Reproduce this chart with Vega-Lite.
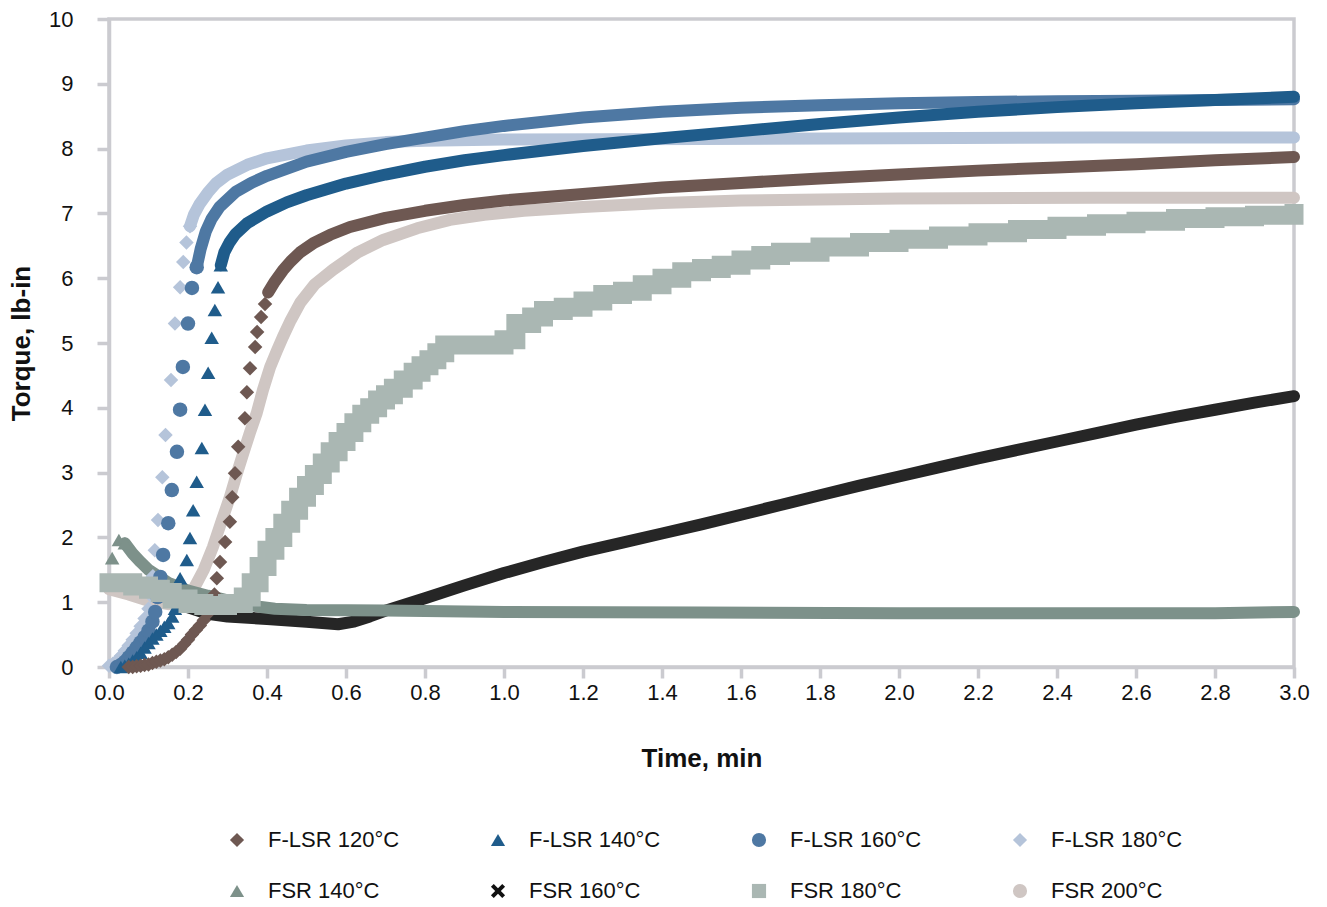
{
  "$schema": "https://vega.github.io/schema/vega-lite/v6.json",
  "width": 1185,
  "height": 648,
  "autosize": {"type": "none"},
  "padding": {"left": 109, "top": 19, "right": 33, "bottom": 240},
  "background": "white",
  "config": {
    "view": {"stroke": "#cbcbd0", "strokeWidth": 3.5},
    "axis": {"grid": false, "domainColor": "#cbcbd0", "domainWidth": 3.5, "tickColor": "#cbcbd0", "tickWidth": 3.5, "labelFont": "Liberation Sans", "labelFontSize": 22, "labelColor": "#111", "titleFont": "Liberation Sans", "titleFontSize": 26, "titleFontWeight": "bold", "titleColor": "#111"}
  },
  "datasets": {
    "bands": [
      {"series": "FSR 160°C", "time": 0, "torque": 1.28},
      {"series": "FSR 160°C", "time": 0.1, "torque": 1.12},
      {"series": "FSR 160°C", "time": 0.2, "torque": 0.92},
      {"series": "FSR 160°C", "time": 0.25, "torque": 0.82},
      {"series": "FSR 160°C", "time": 0.3, "torque": 0.78},
      {"series": "FSR 160°C", "time": 0.4, "torque": 0.74},
      {"series": "FSR 160°C", "time": 0.5, "torque": 0.7},
      {"series": "FSR 160°C", "time": 0.58, "torque": 0.66},
      {"series": "FSR 160°C", "time": 0.62, "torque": 0.7},
      {"series": "FSR 160°C", "time": 0.66, "torque": 0.78},
      {"series": "FSR 160°C", "time": 0.7, "torque": 0.87},
      {"series": "FSR 160°C", "time": 0.8, "torque": 1.06},
      {"series": "FSR 160°C", "time": 0.9, "torque": 1.26},
      {"series": "FSR 160°C", "time": 1.0, "torque": 1.45},
      {"series": "FSR 160°C", "time": 1.1, "torque": 1.62},
      {"series": "FSR 160°C", "time": 1.2, "torque": 1.78},
      {"series": "FSR 160°C", "time": 1.3, "torque": 1.92},
      {"series": "FSR 160°C", "time": 1.4, "torque": 2.06},
      {"series": "FSR 160°C", "time": 1.5, "torque": 2.2},
      {"series": "FSR 160°C", "time": 1.6, "torque": 2.35},
      {"series": "FSR 160°C", "time": 1.7, "torque": 2.5},
      {"series": "FSR 160°C", "time": 1.8, "torque": 2.65},
      {"series": "FSR 160°C", "time": 1.9, "torque": 2.8},
      {"series": "FSR 160°C", "time": 2.0, "torque": 2.94},
      {"series": "FSR 160°C", "time": 2.1, "torque": 3.08},
      {"series": "FSR 160°C", "time": 2.2, "torque": 3.22},
      {"series": "FSR 160°C", "time": 2.3, "torque": 3.35},
      {"series": "FSR 160°C", "time": 2.4, "torque": 3.48},
      {"series": "FSR 160°C", "time": 2.5, "torque": 3.61},
      {"series": "FSR 160°C", "time": 2.6, "torque": 3.74},
      {"series": "FSR 160°C", "time": 2.7, "torque": 3.86},
      {"series": "FSR 160°C", "time": 2.8, "torque": 3.97},
      {"series": "FSR 160°C", "time": 2.9, "torque": 4.08},
      {"series": "FSR 160°C", "time": 3.0, "torque": 4.18},

      {"series": "FSR 200°C", "time": 0, "torque": 1.2},
      {"series": "FSR 200°C", "time": 0.05, "torque": 1.12},
      {"series": "FSR 200°C", "time": 0.1, "torque": 1.02},
      {"series": "FSR 200°C", "time": 0.15, "torque": 0.97},
      {"series": "FSR 200°C", "time": 0.2, "torque": 1.05},
      {"series": "FSR 200°C", "time": 0.213, "torque": 1.19},
      {"series": "FSR 200°C", "time": 0.24, "torque": 1.5},
      {"series": "FSR 200°C", "time": 0.263, "torque": 1.85},
      {"series": "FSR 200°C", "time": 0.285, "torque": 2.25},
      {"series": "FSR 200°C", "time": 0.306, "torque": 2.62},
      {"series": "FSR 200°C", "time": 0.323, "torque": 2.97},
      {"series": "FSR 200°C", "time": 0.34, "torque": 3.3},
      {"series": "FSR 200°C", "time": 0.357, "torque": 3.62},
      {"series": "FSR 200°C", "time": 0.374, "torque": 3.92},
      {"series": "FSR 200°C", "time": 0.39, "torque": 4.28},
      {"series": "FSR 200°C", "time": 0.408, "torque": 4.63},
      {"series": "FSR 200°C", "time": 0.425, "torque": 4.88},
      {"series": "FSR 200°C", "time": 0.44, "torque": 5.09},
      {"series": "FSR 200°C", "time": 0.46, "torque": 5.35},
      {"series": "FSR 200°C", "time": 0.484, "torque": 5.62},
      {"series": "FSR 200°C", "time": 0.52, "torque": 5.9},
      {"series": "FSR 200°C", "time": 0.567, "torque": 6.13},
      {"series": "FSR 200°C", "time": 0.63, "torque": 6.4},
      {"series": "FSR 200°C", "time": 0.694, "torque": 6.59},
      {"series": "FSR 200°C", "time": 0.78, "torque": 6.77},
      {"series": "FSR 200°C", "time": 0.863, "torque": 6.9},
      {"series": "FSR 200°C", "time": 0.95, "torque": 6.98},
      {"series": "FSR 200°C", "time": 1.05, "torque": 7.04},
      {"series": "FSR 200°C", "time": 1.2, "torque": 7.1},
      {"series": "FSR 200°C", "time": 1.4, "torque": 7.16},
      {"series": "FSR 200°C", "time": 1.6, "torque": 7.2},
      {"series": "FSR 200°C", "time": 2.0, "torque": 7.23},
      {"series": "FSR 200°C", "time": 2.5, "torque": 7.24},
      {"series": "FSR 200°C", "time": 3.0, "torque": 7.24},

      {"series": "F-LSR 120°C", "time": 0.403, "torque": 5.78},
      {"series": "F-LSR 120°C", "time": 0.42, "torque": 5.95},
      {"series": "F-LSR 120°C", "time": 0.44, "torque": 6.12},
      {"series": "F-LSR 120°C", "time": 0.46, "torque": 6.26},
      {"series": "F-LSR 120°C", "time": 0.484, "torque": 6.4},
      {"series": "F-LSR 120°C", "time": 0.52, "torque": 6.55},
      {"series": "F-LSR 120°C", "time": 0.56, "torque": 6.67},
      {"series": "F-LSR 120°C", "time": 0.61, "torque": 6.79},
      {"series": "F-LSR 120°C", "time": 0.7, "torque": 6.93},
      {"series": "F-LSR 120°C", "time": 0.8, "torque": 7.04},
      {"series": "F-LSR 120°C", "time": 0.9, "torque": 7.13},
      {"series": "F-LSR 120°C", "time": 1.0, "torque": 7.2},
      {"series": "F-LSR 120°C", "time": 1.2, "torque": 7.3},
      {"series": "F-LSR 120°C", "time": 1.4, "torque": 7.4},
      {"series": "F-LSR 120°C", "time": 1.6, "torque": 7.47},
      {"series": "F-LSR 120°C", "time": 1.8, "torque": 7.54},
      {"series": "F-LSR 120°C", "time": 2.0, "torque": 7.6},
      {"series": "F-LSR 120°C", "time": 2.2, "torque": 7.66},
      {"series": "F-LSR 120°C", "time": 2.4, "torque": 7.71},
      {"series": "F-LSR 120°C", "time": 2.6, "torque": 7.76},
      {"series": "F-LSR 120°C", "time": 2.8, "torque": 7.82},
      {"series": "F-LSR 120°C", "time": 3.0, "torque": 7.87},

      {"series": "F-LSR 180°C", "time": 0.205, "torque": 6.8},
      {"series": "F-LSR 180°C", "time": 0.215, "torque": 6.98},
      {"series": "F-LSR 180°C", "time": 0.23, "torque": 7.15},
      {"series": "F-LSR 180°C", "time": 0.25, "torque": 7.32},
      {"series": "F-LSR 180°C", "time": 0.27, "torque": 7.46},
      {"series": "F-LSR 180°C", "time": 0.3, "torque": 7.6},
      {"series": "F-LSR 180°C", "time": 0.35, "torque": 7.75},
      {"series": "F-LSR 180°C", "time": 0.4, "torque": 7.85},
      {"series": "F-LSR 180°C", "time": 0.5, "torque": 7.97},
      {"series": "F-LSR 180°C", "time": 0.6, "torque": 8.05},
      {"series": "F-LSR 180°C", "time": 0.7, "torque": 8.1},
      {"series": "F-LSR 180°C", "time": 0.8, "torque": 8.12},
      {"series": "F-LSR 180°C", "time": 1.0, "torque": 8.14},
      {"series": "F-LSR 180°C", "time": 1.5, "torque": 8.15},
      {"series": "F-LSR 180°C", "time": 2.0, "torque": 8.16},
      {"series": "F-LSR 180°C", "time": 2.5, "torque": 8.17},
      {"series": "F-LSR 180°C", "time": 3.0, "torque": 8.17},

      {"series": "F-LSR 160°C", "time": 0.222, "torque": 6.17},
      {"series": "F-LSR 160°C", "time": 0.232, "torque": 6.45},
      {"series": "F-LSR 160°C", "time": 0.245, "torque": 6.72},
      {"series": "F-LSR 160°C", "time": 0.26, "torque": 6.92},
      {"series": "F-LSR 160°C", "time": 0.28, "torque": 7.1},
      {"series": "F-LSR 160°C", "time": 0.32, "torque": 7.33},
      {"series": "F-LSR 160°C", "time": 0.36, "torque": 7.47},
      {"series": "F-LSR 160°C", "time": 0.4, "torque": 7.58},
      {"series": "F-LSR 160°C", "time": 0.5, "torque": 7.8},
      {"series": "F-LSR 160°C", "time": 0.6, "torque": 7.95},
      {"series": "F-LSR 160°C", "time": 0.7, "torque": 8.07},
      {"series": "F-LSR 160°C", "time": 0.8, "torque": 8.17},
      {"series": "F-LSR 160°C", "time": 0.9, "torque": 8.27},
      {"series": "F-LSR 160°C", "time": 1.0, "torque": 8.35},
      {"series": "F-LSR 160°C", "time": 1.2, "torque": 8.48},
      {"series": "F-LSR 160°C", "time": 1.4, "torque": 8.57},
      {"series": "F-LSR 160°C", "time": 1.6, "torque": 8.63},
      {"series": "F-LSR 160°C", "time": 1.8, "torque": 8.67},
      {"series": "F-LSR 160°C", "time": 2.0, "torque": 8.7},
      {"series": "F-LSR 160°C", "time": 2.2, "torque": 8.72},
      {"series": "F-LSR 160°C", "time": 2.4, "torque": 8.73},
      {"series": "F-LSR 160°C", "time": 2.6, "torque": 8.74},
      {"series": "F-LSR 160°C", "time": 2.8, "torque": 8.75},
      {"series": "F-LSR 160°C", "time": 3.0, "torque": 8.76},

      {"series": "F-LSR 140°C", "time": 0.283, "torque": 6.2},
      {"series": "F-LSR 140°C", "time": 0.292, "torque": 6.4},
      {"series": "F-LSR 140°C", "time": 0.305, "torque": 6.55},
      {"series": "F-LSR 140°C", "time": 0.32, "torque": 6.68},
      {"series": "F-LSR 140°C", "time": 0.35, "torque": 6.85},
      {"series": "F-LSR 140°C", "time": 0.4, "torque": 7.03},
      {"series": "F-LSR 140°C", "time": 0.45, "torque": 7.17},
      {"series": "F-LSR 140°C", "time": 0.5, "torque": 7.28},
      {"series": "F-LSR 140°C", "time": 0.6, "torque": 7.46},
      {"series": "F-LSR 140°C", "time": 0.7, "torque": 7.6},
      {"series": "F-LSR 140°C", "time": 0.8, "torque": 7.72},
      {"series": "F-LSR 140°C", "time": 0.9, "torque": 7.82},
      {"series": "F-LSR 140°C", "time": 1.0, "torque": 7.9},
      {"series": "F-LSR 140°C", "time": 1.2, "torque": 8.04},
      {"series": "F-LSR 140°C", "time": 1.4, "torque": 8.16},
      {"series": "F-LSR 140°C", "time": 1.6, "torque": 8.27},
      {"series": "F-LSR 140°C", "time": 1.8, "torque": 8.38},
      {"series": "F-LSR 140°C", "time": 2.0, "torque": 8.48},
      {"series": "F-LSR 140°C", "time": 2.2, "torque": 8.57},
      {"series": "F-LSR 140°C", "time": 2.4, "torque": 8.64},
      {"series": "F-LSR 140°C", "time": 2.6, "torque": 8.7},
      {"series": "F-LSR 140°C", "time": 2.8, "torque": 8.75},
      {"series": "F-LSR 140°C", "time": 3.0, "torque": 8.8},

      {"series": "FSR 140°C", "time": 0.04, "torque": 1.91},
      {"series": "FSR 140°C", "time": 0.06, "torque": 1.75},
      {"series": "FSR 140°C", "time": 0.08, "torque": 1.62},
      {"series": "FSR 140°C", "time": 0.1, "torque": 1.5},
      {"series": "FSR 140°C", "time": 0.125, "torque": 1.4},
      {"series": "FSR 140°C", "time": 0.15, "torque": 1.3},
      {"series": "FSR 140°C", "time": 0.175, "torque": 1.24},
      {"series": "FSR 140°C", "time": 0.2, "torque": 1.18},
      {"series": "FSR 140°C", "time": 0.25, "torque": 1.1},
      {"series": "FSR 140°C", "time": 0.3, "torque": 1.03},
      {"series": "FSR 140°C", "time": 0.35, "torque": 0.97},
      {"series": "FSR 140°C", "time": 0.38, "torque": 0.93},
      {"series": "FSR 140°C", "time": 0.42, "torque": 0.9},
      {"series": "FSR 140°C", "time": 0.5, "torque": 0.88},
      {"series": "FSR 140°C", "time": 0.7, "torque": 0.87},
      {"series": "FSR 140°C", "time": 1.0, "torque": 0.85},
      {"series": "FSR 140°C", "time": 1.5, "torque": 0.84},
      {"series": "FSR 140°C", "time": 2.0, "torque": 0.83},
      {"series": "FSR 140°C", "time": 2.5, "torque": 0.83},
      {"series": "FSR 140°C", "time": 2.8, "torque": 0.83},
      {"series": "FSR 140°C", "time": 3.0, "torque": 0.85},

      {"series": "FSR 180°C", "time": 0, "torque": 1.3},
      {"series": "FSR 180°C", "time": 0.03, "torque": 1.3},
      {"series": "FSR 180°C", "time": 0.06, "torque": 1.25},
      {"series": "FSR 180°C", "time": 0.1, "torque": 1.2},
      {"series": "FSR 180°C", "time": 0.13, "torque": 1.15},
      {"series": "FSR 180°C", "time": 0.16, "torque": 1.05},
      {"series": "FSR 180°C", "time": 0.2, "torque": 0.98},
      {"series": "FSR 180°C", "time": 0.24, "torque": 0.95},
      {"series": "FSR 180°C", "time": 0.3, "torque": 0.98},
      {"series": "FSR 180°C", "time": 0.34, "torque": 1.08},
      {"series": "FSR 180°C", "time": 0.36, "torque": 1.3},
      {"series": "FSR 180°C", "time": 0.38, "torque": 1.55},
      {"series": "FSR 180°C", "time": 0.4, "torque": 1.8},
      {"series": "FSR 180°C", "time": 0.42, "torque": 2.0},
      {"series": "FSR 180°C", "time": 0.44, "torque": 2.22},
      {"series": "FSR 180°C", "time": 0.46, "torque": 2.42},
      {"series": "FSR 180°C", "time": 0.48, "torque": 2.62},
      {"series": "FSR 180°C", "time": 0.5, "torque": 2.8},
      {"series": "FSR 180°C", "time": 0.52, "torque": 2.97},
      {"series": "FSR 180°C", "time": 0.54, "torque": 3.15},
      {"series": "FSR 180°C", "time": 0.56, "torque": 3.32},
      {"series": "FSR 180°C", "time": 0.58, "torque": 3.48},
      {"series": "FSR 180°C", "time": 0.6, "torque": 3.62},
      {"series": "FSR 180°C", "time": 0.62, "torque": 3.77},
      {"series": "FSR 180°C", "time": 0.64, "torque": 3.9},
      {"series": "FSR 180°C", "time": 0.66, "torque": 4.0},
      {"series": "FSR 180°C", "time": 0.68, "torque": 4.12},
      {"series": "FSR 180°C", "time": 0.7, "torque": 4.2},
      {"series": "FSR 180°C", "time": 0.72, "torque": 4.3},
      {"series": "FSR 180°C", "time": 0.745, "torque": 4.43},
      {"series": "FSR 180°C", "time": 0.77, "torque": 4.55},
      {"series": "FSR 180°C", "time": 0.79, "torque": 4.65},
      {"series": "FSR 180°C", "time": 0.81, "torque": 4.74},
      {"series": "FSR 180°C", "time": 0.83, "torque": 4.85},
      {"series": "FSR 180°C", "time": 0.85, "torque": 4.97},
      {"series": "FSR 180°C", "time": 1.0, "torque": 5.05},
      {"series": "FSR 180°C", "time": 1.03, "torque": 5.3},
      {"series": "FSR 180°C", "time": 1.07, "torque": 5.4},
      {"series": "FSR 180°C", "time": 1.1, "torque": 5.5},
      {"series": "FSR 180°C", "time": 1.15, "torque": 5.55},
      {"series": "FSR 180°C", "time": 1.2, "torque": 5.65},
      {"series": "FSR 180°C", "time": 1.25, "torque": 5.75},
      {"series": "FSR 180°C", "time": 1.3, "torque": 5.8},
      {"series": "FSR 180°C", "time": 1.35, "torque": 5.9},
      {"series": "FSR 180°C", "time": 1.4, "torque": 6.0},
      {"series": "FSR 180°C", "time": 1.45, "torque": 6.1},
      {"series": "FSR 180°C", "time": 1.5, "torque": 6.15},
      {"series": "FSR 180°C", "time": 1.55, "torque": 6.2},
      {"series": "FSR 180°C", "time": 1.6, "torque": 6.28},
      {"series": "FSR 180°C", "time": 1.65, "torque": 6.35},
      {"series": "FSR 180°C", "time": 1.7, "torque": 6.4},
      {"series": "FSR 180°C", "time": 1.8, "torque": 6.48},
      {"series": "FSR 180°C", "time": 1.9, "torque": 6.55},
      {"series": "FSR 180°C", "time": 2.0, "torque": 6.6},
      {"series": "FSR 180°C", "time": 2.1, "torque": 6.65},
      {"series": "FSR 180°C", "time": 2.2, "torque": 6.7},
      {"series": "FSR 180°C", "time": 2.3, "torque": 6.75},
      {"series": "FSR 180°C", "time": 2.4, "torque": 6.8},
      {"series": "FSR 180°C", "time": 2.5, "torque": 6.84},
      {"series": "FSR 180°C", "time": 2.6, "torque": 6.88},
      {"series": "FSR 180°C", "time": 2.7, "torque": 6.92},
      {"series": "FSR 180°C", "time": 2.8, "torque": 6.95},
      {"series": "FSR 180°C", "time": 2.9, "torque": 6.97},
      {"series": "FSR 180°C", "time": 3.0, "torque": 7.0}
    ],
    "ramps": [
      {"series": "F-LSR 180°C", "time": 0.0, "torque": 0.02},
      {"series": "F-LSR 180°C", "time": 0.01, "torque": 0.05},
      {"series": "F-LSR 180°C", "time": 0.02, "torque": 0.1},
      {"series": "F-LSR 180°C", "time": 0.03, "torque": 0.17},
      {"series": "F-LSR 180°C", "time": 0.04, "torque": 0.25},
      {"series": "F-LSR 180°C", "time": 0.05, "torque": 0.33},
      {"series": "F-LSR 180°C", "time": 0.06, "torque": 0.42},
      {"series": "F-LSR 180°C", "time": 0.07, "torque": 0.52},
      {"series": "F-LSR 180°C", "time": 0.08, "torque": 0.63},
      {"series": "F-LSR 180°C", "time": 0.09, "torque": 0.75},
      {"series": "F-LSR 180°C", "time": 0.1, "torque": 0.9},
      {"series": "F-LSR 180°C", "time": 0.106, "torque": 1.1},
      {"series": "F-LSR 180°C", "time": 0.111, "torque": 1.4},
      {"series": "F-LSR 180°C", "time": 0.116, "torque": 1.8},
      {"series": "F-LSR 180°C", "time": 0.124, "torque": 2.27},
      {"series": "F-LSR 180°C", "time": 0.135, "torque": 2.93},
      {"series": "F-LSR 180°C", "time": 0.143, "torque": 3.58},
      {"series": "F-LSR 180°C", "time": 0.157, "torque": 4.43},
      {"series": "F-LSR 180°C", "time": 0.167, "torque": 5.3},
      {"series": "F-LSR 180°C", "time": 0.18, "torque": 5.86},
      {"series": "F-LSR 180°C", "time": 0.188, "torque": 6.25},
      {"series": "F-LSR 180°C", "time": 0.196, "torque": 6.55},
      {"series": "F-LSR 180°C", "time": 0.205, "torque": 6.8},

      {"series": "F-LSR 160°C", "time": 0.02, "torque": 0.0},
      {"series": "F-LSR 160°C", "time": 0.03, "torque": 0.03},
      {"series": "F-LSR 160°C", "time": 0.04, "torque": 0.08},
      {"series": "F-LSR 160°C", "time": 0.05, "torque": 0.15},
      {"series": "F-LSR 160°C", "time": 0.06, "torque": 0.22},
      {"series": "F-LSR 160°C", "time": 0.07, "torque": 0.3},
      {"series": "F-LSR 160°C", "time": 0.08, "torque": 0.38},
      {"series": "F-LSR 160°C", "time": 0.09, "torque": 0.46},
      {"series": "F-LSR 160°C", "time": 0.1, "torque": 0.56},
      {"series": "F-LSR 160°C", "time": 0.11, "torque": 0.7},
      {"series": "F-LSR 160°C", "time": 0.117, "torque": 0.85},
      {"series": "F-LSR 160°C", "time": 0.123, "torque": 1.08},
      {"series": "F-LSR 160°C", "time": 0.13, "torque": 1.39},
      {"series": "F-LSR 160°C", "time": 0.137, "torque": 1.73},
      {"series": "F-LSR 160°C", "time": 0.15, "torque": 2.22},
      {"series": "F-LSR 160°C", "time": 0.159, "torque": 2.73},
      {"series": "F-LSR 160°C", "time": 0.172, "torque": 3.32},
      {"series": "F-LSR 160°C", "time": 0.18, "torque": 3.97},
      {"series": "F-LSR 160°C", "time": 0.187, "torque": 4.63},
      {"series": "F-LSR 160°C", "time": 0.2, "torque": 5.3},
      {"series": "F-LSR 160°C", "time": 0.21, "torque": 5.85},
      {"series": "F-LSR 160°C", "time": 0.222, "torque": 6.17},

      {"series": "F-LSR 140°C", "time": 0.03, "torque": 0.0},
      {"series": "F-LSR 140°C", "time": 0.04, "torque": 0.02},
      {"series": "F-LSR 140°C", "time": 0.05, "torque": 0.05},
      {"series": "F-LSR 140°C", "time": 0.06, "torque": 0.1},
      {"series": "F-LSR 140°C", "time": 0.07, "torque": 0.15},
      {"series": "F-LSR 140°C", "time": 0.08, "torque": 0.22},
      {"series": "F-LSR 140°C", "time": 0.09, "torque": 0.3},
      {"series": "F-LSR 140°C", "time": 0.1, "torque": 0.37},
      {"series": "F-LSR 140°C", "time": 0.11, "torque": 0.44},
      {"series": "F-LSR 140°C", "time": 0.12, "torque": 0.5},
      {"series": "F-LSR 140°C", "time": 0.13, "torque": 0.56},
      {"series": "F-LSR 140°C", "time": 0.14, "torque": 0.62},
      {"series": "F-LSR 140°C", "time": 0.15, "torque": 0.68},
      {"series": "F-LSR 140°C", "time": 0.16, "torque": 0.78},
      {"series": "F-LSR 140°C", "time": 0.167, "torque": 0.9},
      {"series": "F-LSR 140°C", "time": 0.173, "torque": 1.08},
      {"series": "F-LSR 140°C", "time": 0.18, "torque": 1.37},
      {"series": "F-LSR 140°C", "time": 0.197, "torque": 1.65},
      {"series": "F-LSR 140°C", "time": 0.205, "torque": 1.99},
      {"series": "F-LSR 140°C", "time": 0.213, "torque": 2.42},
      {"series": "F-LSR 140°C", "time": 0.222, "torque": 2.86},
      {"series": "F-LSR 140°C", "time": 0.235, "torque": 3.38},
      {"series": "F-LSR 140°C", "time": 0.243, "torque": 3.97},
      {"series": "F-LSR 140°C", "time": 0.251, "torque": 4.54},
      {"series": "F-LSR 140°C", "time": 0.26, "torque": 5.08},
      {"series": "F-LSR 140°C", "time": 0.268, "torque": 5.51},
      {"series": "F-LSR 140°C", "time": 0.276, "torque": 5.86},
      {"series": "F-LSR 140°C", "time": 0.283, "torque": 6.2},

      {"series": "F-LSR 120°C", "time": 0.05, "torque": 0.0},
      {"series": "F-LSR 120°C", "time": 0.06, "torque": 0.0},
      {"series": "F-LSR 120°C", "time": 0.07, "torque": 0.01},
      {"series": "F-LSR 120°C", "time": 0.08, "torque": 0.02},
      {"series": "F-LSR 120°C", "time": 0.09, "torque": 0.03},
      {"series": "F-LSR 120°C", "time": 0.1, "torque": 0.04},
      {"series": "F-LSR 120°C", "time": 0.11, "torque": 0.06},
      {"series": "F-LSR 120°C", "time": 0.12, "torque": 0.08},
      {"series": "F-LSR 120°C", "time": 0.13, "torque": 0.1},
      {"series": "F-LSR 120°C", "time": 0.14, "torque": 0.12},
      {"series": "F-LSR 120°C", "time": 0.15, "torque": 0.15},
      {"series": "F-LSR 120°C", "time": 0.16, "torque": 0.19},
      {"series": "F-LSR 120°C", "time": 0.17, "torque": 0.23},
      {"series": "F-LSR 120°C", "time": 0.18, "torque": 0.28},
      {"series": "F-LSR 120°C", "time": 0.19, "torque": 0.35},
      {"series": "F-LSR 120°C", "time": 0.2, "torque": 0.42},
      {"series": "F-LSR 120°C", "time": 0.21, "torque": 0.5},
      {"series": "F-LSR 120°C", "time": 0.22, "torque": 0.57},
      {"series": "F-LSR 120°C", "time": 0.23, "torque": 0.64},
      {"series": "F-LSR 120°C", "time": 0.24, "torque": 0.72},
      {"series": "F-LSR 120°C", "time": 0.25, "torque": 0.82},
      {"series": "F-LSR 120°C", "time": 0.26, "torque": 0.95},
      {"series": "F-LSR 120°C", "time": 0.267, "torque": 1.12},
      {"series": "F-LSR 120°C", "time": 0.273, "torque": 1.37},
      {"series": "F-LSR 120°C", "time": 0.281, "torque": 1.62},
      {"series": "F-LSR 120°C", "time": 0.294, "torque": 1.93},
      {"series": "F-LSR 120°C", "time": 0.306, "torque": 2.24},
      {"series": "F-LSR 120°C", "time": 0.312, "torque": 2.62},
      {"series": "F-LSR 120°C", "time": 0.319, "torque": 2.99},
      {"series": "F-LSR 120°C", "time": 0.327, "torque": 3.4},
      {"series": "F-LSR 120°C", "time": 0.344, "torque": 3.84},
      {"series": "F-LSR 120°C", "time": 0.349, "torque": 4.24},
      {"series": "F-LSR 120°C", "time": 0.357, "torque": 4.61},
      {"series": "F-LSR 120°C", "time": 0.37, "torque": 4.94},
      {"series": "F-LSR 120°C", "time": 0.375, "torque": 5.17},
      {"series": "F-LSR 120°C", "time": 0.385, "torque": 5.4},
      {"series": "F-LSR 120°C", "time": 0.395, "torque": 5.6},

      {"series": "FSR 140°C", "time": 0.008, "torque": 1.68},
      {"series": "FSR 140°C", "time": 0.025, "torque": 1.96},
      {"series": "FSR 140°C", "time": 0.04, "torque": 1.91}
    ]
  },
  "layer": [
    {
      "data": {"name": "bands"},
      "transform": [{"filter": "datum.series != 'FSR 180°C'"}],
      "mark": {"type": "line", "strokeJoin": "round", "strokeCap": "round"},
      "encoding": {
        "x": {"field": "time", "type": "quantitative"},
        "y": {"field": "torque", "type": "quantitative"},
        "stroke": {"field": "series", "type": "nominal", "legend": null,
          "scale": {"range": ["#6e5852", "#1f5c8b", "#4e78a3", "#b5c4da", "#7d918a", "#262626", "#cfc6c3"]}},
        "strokeWidth": {"field": "series", "type": "nominal", "legend": null,
          "scale": {"range": [12, 12, 13, 12, 11, 8, 13]}}
      }
    },
    {
      "data": {"name": "ramps"},
      "mark": {"type": "point", "filled": true, "opacity": 1, "size": 210},
      "encoding": {
        "x": {"field": "time", "type": "quantitative",
          "scale": {"domain": [0, 3], "nice": false, "zero": false},
          "axis": {"title": "Time, min", "values": [0, 0.2, 0.4, 0.6, 0.8, 1.0, 1.2, 1.4, 1.6, 1.8, 2.0, 2.2, 2.4, 2.6, 2.8, 3.0], "format": ".1f", "tickSize": 11, "labelPadding": 4, "titlePadding": 42, "labelFlush": false, "labelOverlap": false}},
        "y": {"field": "torque", "type": "quantitative",
          "scale": {"domain": [0, 10], "nice": false},
          "axis": {"title": "Torque, lb-in", "values": [0, 1, 2, 3, 4, 5, 6, 7, 8, 9, 10], "format": "d", "tickSize": 12, "labelPadding": 24, "titlePadding": 14, "labelFlush": false}},
        "color": {"field": "series", "type": "nominal",
          "scale": {"domain": ["F-LSR 120°C", "F-LSR 140°C", "F-LSR 160°C", "F-LSR 180°C", "FSR 140°C", "FSR 160°C", "FSR 180°C", "FSR 200°C"],
            "range": ["#6e5852", "#1f5c8b", "#4e78a3", "#b5c4da", "#7d918a", "#111111", "#aab7b3", "#cfc6c3"]},
          "legend": {"title": null, "orient": "none", "legendX": 117, "legendY": 810, "columns": 4, "direction": "horizontal", "labelFont": "Liberation Sans", "labelFontSize": 22, "labelColor": "#111", "symbolSize": 200, "symbolStrokeWidth": 0, "labelOffset": 20, "columnPadding": 87, "rowPadding": 29, "padding": 0, "labelLimit": 300}},
        "shape": {"field": "series", "type": "nominal",
          "scale": {"domain": ["F-LSR 120°C", "F-LSR 140°C", "F-LSR 160°C", "F-LSR 180°C", "FSR 140°C", "FSR 160°C", "FSR 180°C", "FSR 200°C"],
            "range": ["diamond", "triangle-up", "circle", "diamond", "triangle-up", "M-1,-0.6L-0.6,-1L0,-0.4L0.6,-1L1,-0.6L0.4,0L1,0.6L0.6,1L0,0.4L-0.6,1L-1,0.6L-0.4,0Z", "square", "circle"]},
          "legend": {"title": null, "orient": "none", "legendX": 117, "legendY": 810, "columns": 4, "direction": "horizontal", "labelFont": "Liberation Sans", "labelFontSize": 22, "labelColor": "#111", "symbolSize": 200, "symbolStrokeWidth": 0, "labelOffset": 20, "columnPadding": 87, "rowPadding": 29, "padding": 0, "labelLimit": 300}}
      }
    },
    {
      "data": {"name": "bands"},
      "transform": [{"filter": "datum.series == 'FSR 180°C'"}],
      "mark": {"type": "line", "interpolate": "step-after", "strokeWidth": 19, "strokeCap": "square", "strokeJoin": "miter", "stroke": "#aab7b3"},
      "encoding": {
        "x": {"field": "time", "type": "quantitative"},
        "y": {"field": "torque", "type": "quantitative"}
      }
    }
  ]
}
